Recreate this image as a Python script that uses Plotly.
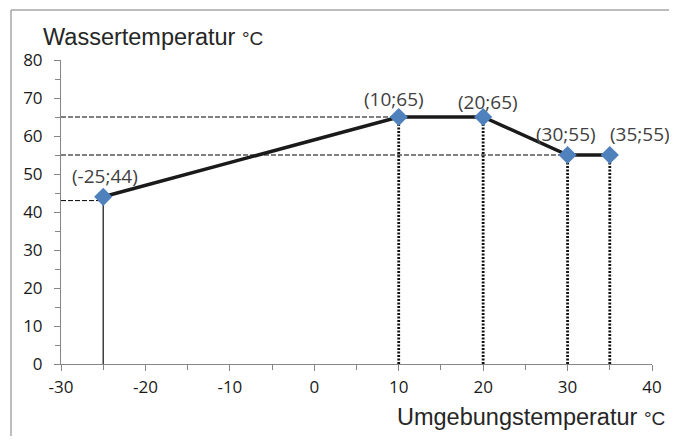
import plotly.graph_objects as go

# Data
ambient_temp = [-25, 10, 20, 30, 35]
water_temp = [44, 65, 65, 55, 55]
point_labels = ["(-25;44)", "(10;65)", "(20;65)", "(30;55)", "(35;55)"]
x_ticks = [-30, -20, -10, 0, 10, 20, 30, 40]
x_tick_labels = ["-30", "-20", "-10", "0", "10", "20", "30", "40"]
y_ticks = [0, 10, 20, 30, 40, 50, 60, 70, 80]
y_tick_labels = ["0", "10", "20", "30", "40", "50", "60", "70", "80"]
# dashed guide levels to y-axis: (level, end x)
h_guides_y = [43, 65, 55]
h_guides_x_end = [-25, 10, 30]

X_MIN, X_MAX = -30, 40
Y_MIN, Y_MAX = 0, 80

fig = go.Figure()

# horizontal dashed guides
for yv, xe in zip(h_guides_y, h_guides_x_end):
    fig.add_trace(go.Scatter(x=[X_MIN, xe], y=[yv, yv], mode="lines",
                             line=dict(color="#000000", width=1, dash="5px,2px"),
                             hoverinfo="skip", showlegend=False))

# vertical solid line at first point
fig.add_trace(go.Scatter(x=[ambient_temp[0], ambient_temp[0]], y=[Y_MIN, water_temp[0]],
                         mode="lines", line=dict(color="#202020", width=1.3),
                         hoverinfo="skip", showlegend=False))

# vertical dotted lines for the other points
for xv, yv in zip(ambient_temp[1:], water_temp[1:]):
    fig.add_trace(go.Scatter(x=[xv, xv], y=[Y_MIN, yv], mode="lines",
                             line=dict(color="#111111", width=2.8, dash="2px,1.5px"),
                             hoverinfo="skip", showlegend=False))

# main curve
fig.add_trace(go.Scatter(x=ambient_temp, y=water_temp, mode="lines+markers",
                         line=dict(color="#1a1a1a", width=3.5),
                         marker=dict(symbol="diamond", size=14, color="#4F81BD",
                                     line=dict(width=0)),
                         showlegend=False))

# labels (pixel offsets)
label_shift = [(2, 21), (-5, 18), (5, 15), (-2, 21), (30, 21)]
for xv, yv, t, (dx, dy) in zip(ambient_temp, water_temp, point_labels, label_shift):
    fig.add_annotation(x=xv, y=yv, text=t, showarrow=False, xshift=dx, yshift=dy,
                       font=dict(family="Open Sans", size=19, color="#404040"))

# axis titles
fig.add_annotation(xref="paper", yref="paper", x=-0.034, y=1.077, xanchor="left", yanchor="middle",
                   text="Wassertemperatur <span style='font-size:19px'>°C</span>", showarrow=False,
                   font=dict(family="Liberation Sans", size=23.5, color="#262626"))
fig.add_annotation(xref="paper", yref="paper", x=1.0255, y=-0.174, xanchor="right", yanchor="middle",
                   text="Umgebungstemperatur <span style='font-size:19px'>°C</span>", showarrow=False,
                   font=dict(family="Liberation Sans", size=23.5, color="#262626"))

# outer border (top and left edges visible)
fig.add_shape(type="line", xref="paper", yref="paper", x0=-0.0846, x1=1.2, y0=1.1645, y1=1.1645,
              line=dict(color="#a6a6a6", width=1.5), layer="below")
fig.add_shape(type="line", xref="paper", yref="paper", x0=-0.0846, x1=-0.0846, y0=-0.4, y1=1.1645,
              line=dict(color="#a6a6a6", width=1.5), layer="below")

axis_common = dict(showgrid=False, zeroline=False, showline=True, linecolor="#868686",
                   linewidth=1, ticks="outside", tickcolor="#868686", ticklen=6,
                   tickfont=dict(family="Open Sans", size=17, color="#1a1a1a"))

fig.update_xaxes(range=[X_MIN, X_MAX], tickvals=x_ticks, ticktext=x_tick_labels,
                 ticklabelstandoff=2,
                 minor=dict(ticks="outside", dtick=5, ticklen=5, tickcolor="#868686", showgrid=False),
                 **axis_common)
fig.update_yaxes(range=[Y_MIN, Y_MAX], tickvals=y_ticks, ticktext=y_tick_labels,
                 ticklabelstandoff=8,
                 minor=dict(ticks="outside", dtick=5, ticklen=5, tickcolor="#868686", showgrid=False),
                 **axis_common)

fig.update_layout(width=669, height=428, margin=dict(l=53, r=25, t=52, b=72),
                  paper_bgcolor="white", plot_bgcolor="white")

fig.write_html("out.html")
